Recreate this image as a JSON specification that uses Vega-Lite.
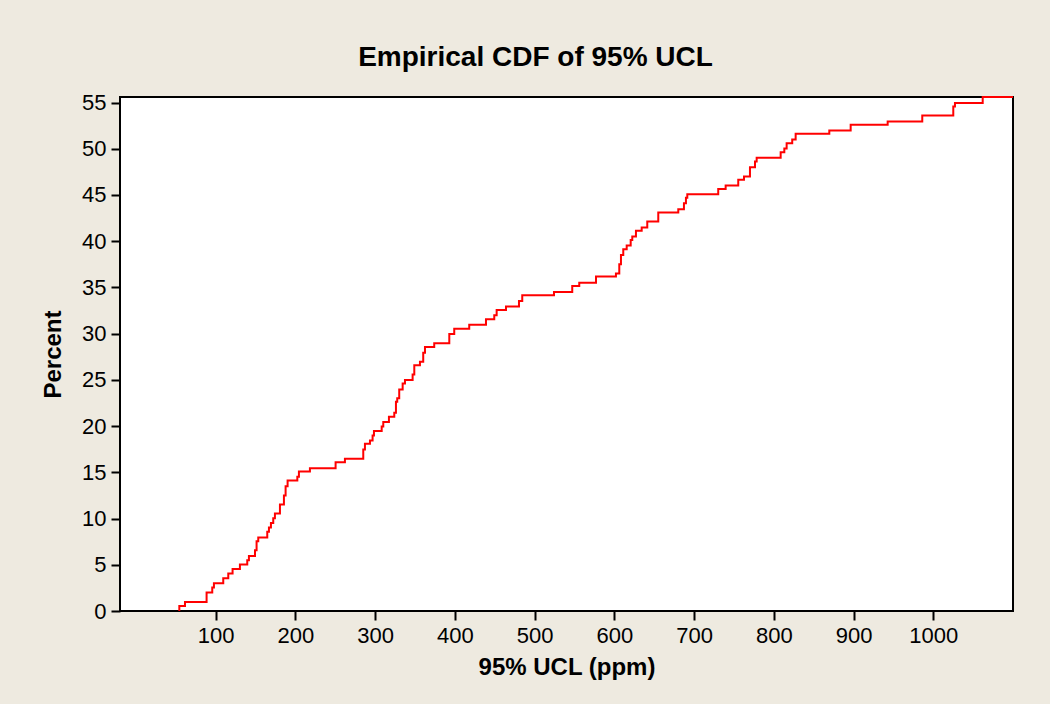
{
  "$schema": "https://vega.github.io/schema/vega-lite/v6.json",
  "width": 893,
  "height": 514,
  "autosize": "none",
  "padding": {"left": 120, "top": 97, "right": 37, "bottom": 93},
  "background": "#EEEAE0",
  "title": {
    "text": "Empirical CDF of 95% UCL",
    "font": "Liberation Sans",
    "fontSize": 28,
    "fontWeight": "bold",
    "color": "#000000",
    "anchor": "middle",
    "dx": -31,
    "offset": 20
  },
  "config": {
    "view": {"stroke": "#000000", "strokeWidth": 2, "fill": "#FFFFFF"},
    "axis": {
      "domain": false,
      "grid": false,
      "ticks": true,
      "tickColor": "#000000",
      "tickWidth": 2,
      "tickSize": 9,
      "labelFont": "Liberation Sans",
      "labelFontSize": 22,
      "labelColor": "#000000",
      "titleFont": "Liberation Sans",
      "titleFontSize": 24,
      "titleFontWeight": "bold",
      "titleColor": "#000000"
    }
  },
  "data": {
    "values": [
      {"ucl": 54.4, "pct": 0},
      {"ucl": 54.4, "pct": 0.54},
      {"ucl": 61.5, "pct": 0.98},
      {"ucl": 88.6, "pct": 1.99},
      {"ucl": 95.7, "pct": 2.53},
      {"ucl": 97.8, "pct": 3.0},
      {"ucl": 109.5, "pct": 3.54},
      {"ucl": 115.8, "pct": 4.05},
      {"ucl": 121.2, "pct": 4.55},
      {"ucl": 130.4, "pct": 5.02},
      {"ucl": 139.6, "pct": 5.49},
      {"ucl": 141.7, "pct": 5.96},
      {"ucl": 149.3, "pct": 6.57},
      {"ucl": 151.3, "pct": 7.55},
      {"ucl": 153.4, "pct": 7.95},
      {"ucl": 164.7, "pct": 8.56},
      {"ucl": 166.8, "pct": 9.03},
      {"ucl": 169.3, "pct": 9.53},
      {"ucl": 172.2, "pct": 10.04},
      {"ucl": 174.3, "pct": 10.54},
      {"ucl": 180.6, "pct": 11.52},
      {"ucl": 185.6, "pct": 12.49},
      {"ucl": 187.7, "pct": 13.5},
      {"ucl": 190.2, "pct": 14.12},
      {"ucl": 202.4, "pct": 14.51},
      {"ucl": 204.4, "pct": 15.09},
      {"ucl": 218.2, "pct": 15.45},
      {"ucl": 250.4, "pct": 16.1},
      {"ucl": 262.1, "pct": 16.46},
      {"ucl": 285.1, "pct": 17.48},
      {"ucl": 287.2, "pct": 18.09},
      {"ucl": 293.5, "pct": 18.45},
      {"ucl": 296.8, "pct": 18.99},
      {"ucl": 298.5, "pct": 19.46},
      {"ucl": 308.2, "pct": 19.95},
      {"ucl": 310.2, "pct": 20.45},
      {"ucl": 317.3, "pct": 21.01},
      {"ucl": 324.0, "pct": 21.45},
      {"ucl": 326.1, "pct": 22.64},
      {"ucl": 327.7, "pct": 23.0},
      {"ucl": 330.2, "pct": 23.97},
      {"ucl": 334.5, "pct": 24.62},
      {"ucl": 337.4, "pct": 24.98},
      {"ucl": 347.0, "pct": 25.59},
      {"ucl": 349.1, "pct": 26.57},
      {"ucl": 356.2, "pct": 26.97},
      {"ucl": 360.3, "pct": 27.94},
      {"ucl": 362.5, "pct": 28.56},
      {"ucl": 374.1, "pct": 28.96},
      {"ucl": 393.0, "pct": 29.96},
      {"ucl": 399.2, "pct": 30.54},
      {"ucl": 418.0, "pct": 30.97},
      {"ucl": 439.0, "pct": 31.55},
      {"ucl": 449.4, "pct": 31.98},
      {"ucl": 452.4, "pct": 32.56},
      {"ucl": 464.1, "pct": 32.93},
      {"ucl": 480.4, "pct": 33.54},
      {"ucl": 484.5, "pct": 34.15},
      {"ucl": 524.3, "pct": 34.51},
      {"ucl": 547.2, "pct": 35.16},
      {"ucl": 556.0, "pct": 35.52},
      {"ucl": 577.0, "pct": 36.17},
      {"ucl": 602.0, "pct": 36.5},
      {"ucl": 606.2, "pct": 37.5},
      {"ucl": 608.3, "pct": 38.52},
      {"ucl": 611.2, "pct": 39.13},
      {"ucl": 615.5, "pct": 39.53},
      {"ucl": 620.5, "pct": 40.14},
      {"ucl": 622.5, "pct": 40.5},
      {"ucl": 627.1, "pct": 41.12},
      {"ucl": 634.3, "pct": 41.48},
      {"ucl": 641.3, "pct": 42.13},
      {"ucl": 655.1, "pct": 43.1},
      {"ucl": 680.2, "pct": 43.46},
      {"ucl": 687.3, "pct": 44.1},
      {"ucl": 689.8, "pct": 44.69},
      {"ucl": 691.5, "pct": 45.09},
      {"ucl": 730.3, "pct": 45.64},
      {"ucl": 739.6, "pct": 46.03},
      {"ucl": 755.4, "pct": 46.64},
      {"ucl": 762.6, "pct": 47.0},
      {"ucl": 770.1, "pct": 48.01},
      {"ucl": 776.4, "pct": 48.63},
      {"ucl": 778.5, "pct": 49.02},
      {"ucl": 808.6, "pct": 49.62},
      {"ucl": 813.2, "pct": 50.04},
      {"ucl": 816.1, "pct": 50.6},
      {"ucl": 823.1, "pct": 51.0},
      {"ucl": 827.4, "pct": 51.62},
      {"ucl": 869.6, "pct": 51.98},
      {"ucl": 896.4, "pct": 52.6},
      {"ucl": 942.8, "pct": 52.96},
      {"ucl": 986.2, "pct": 53.61},
      {"ucl": 1025.1, "pct": 54.58},
      {"ucl": 1027.2, "pct": 54.94},
      {"ucl": 1062.0, "pct": 55.6},
      {"ucl": 1100.0, "pct": 55.6}
    ]
  },
  "mark": {"type": "line", "interpolate": "step-after", "color": "#FF0000", "strokeWidth": 2, "clip": false},
  "encoding": {
    "x": {
      "field": "ucl",
      "type": "quantitative",
      "sort": null,
      "scale": {"domain": [-20, 1100], "nice": false, "zero": false},
      "axis": {"title": "95% UCL (ppm)", "format": "d", "values": [100, 200, 300, 400, 500, 600, 700, 800, 900, 1000], "labelPadding": 5, "titlePadding": 9, "labelFlush": false}
    },
    "y": {
      "field": "pct",
      "type": "quantitative",
      "scale": {"domain": [0, 55.6], "nice": false},
      "axis": {"title": "Percent", "values": [0, 5, 10, 15, 20, 25, 30, 35, 40, 45, 50, 55], "labelPadding": 5, "titlePadding": 16, "labelFlush": false}
    }
  }
}
